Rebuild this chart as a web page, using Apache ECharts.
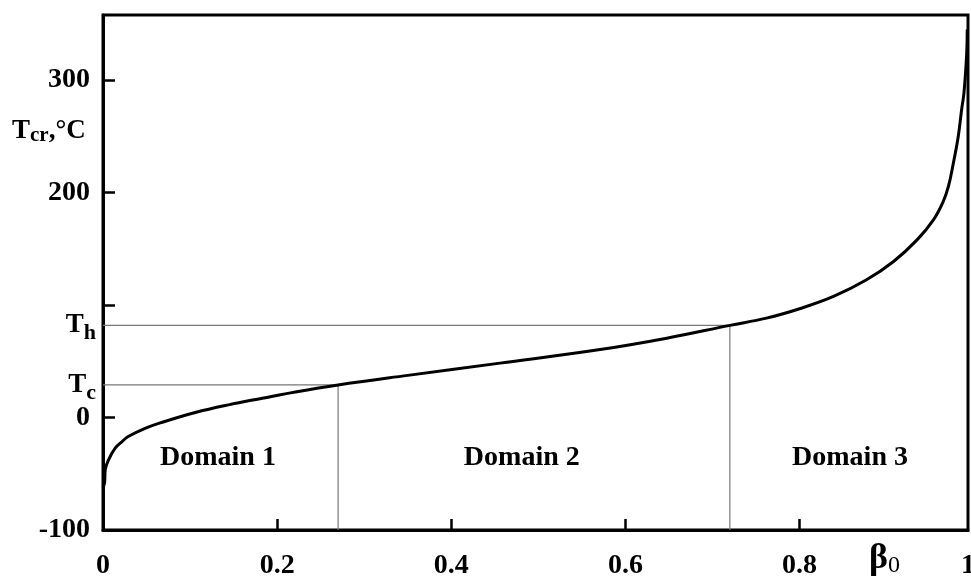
<!DOCTYPE html>
<html><head><meta charset="utf-8">
<script src="https://cdn.jsdelivr.net/npm/echarts@6/dist/echarts.min.js"></script>
<style>html,body{margin:0;padding:0;background:#fff}#chart{width:971px;height:578px}</style>
</head><body><div id="chart"></div>
<script>
// Critical temperature T_cr versus beta_0
const beta = [0, 0.0018, 0.0026, 0.0064, 0.014, 0.022, 0.029, 0.049, 0.068, 0.106, 0.144, 0.183, 0.221, 0.27, 0.35, 0.456, 0.571, 0.6475, 0.72, 0.762, 0.801, 0.839, 0.877, 0.908, 0.935, 0.954, 0.965, 0.971, 0.9766, 0.9823, 0.9862, 0.9889, 0.992, 0.9926];
const tcr  = [-62, -58, -46.5, -37.6, -27.2, -21.3, -16.9, -9.4, -4.2, 4.5, 11.3, 17.2, 22.8, 29, 37.5, 48.4, 60.5, 70.6, 82, 88.4, 97, 107.7, 122.5, 138.8, 158, 176, 192, 205.5, 226, 250, 274, 289, 324, 345];

// Domain boundaries
const T_C = 29, T_H = 82;
const BETA_C = 0.27, BETA_H = 0.72;

// Domain captions
const domainNames = ['Domain 1', 'Domain 2', 'Domain 3'];
const domainX = [0.132, 0.481, 0.858];
const domainY = -36;

// Axis ticks and labels
const X_MAX = 0.9935, Y_MIN = -100, Y_MAX = 358;
const xTicks = [0.2, 0.4, 0.6, 0.8];
const xLabels = [0, 0.2, 0.4, 0.6, 0.8, X_MAX];
const yTicks = [0, 100, 200, 300];
const yLabels = [-100, 0, T_C, T_H, 200, 300];

const SERIF = '"Liberation Serif", "DejaVu Serif", serif';

const chart = echarts.init(document.getElementById('chart'));
chart.setOption({
  animation: false,
  backgroundColor: '#fff',
  grid: {
    left: 103, right: 3, top: 15, bottom: 48, outerBoundsMode: 'none',
    show: true, borderColor: '#000', borderWidth: 3
  },
  xAxis: {
    type: 'value', min: 0, max: X_MAX,
    axisLine: { onZero: false, lineStyle: { color: '#000', width: 3 } },
    axisTick: { inside: true, length: 11, lineStyle: { color: '#000', width: 2.5 }, customValues: xTicks },
    axisLabel: {
      customValues: xLabels, margin: 22,
      color: '#000', fontFamily: SERIF, fontWeight: 'bold', fontSize: 28,
      formatter: v => v >= X_MAX - 1e-6 ? '1' : (v === 0 ? '0' : v.toFixed(1))
    },
    splitLine: { show: false }
  },
  yAxis: {
    type: 'value', min: Y_MIN, max: Y_MAX,
    axisLine: { onZero: false, lineStyle: { color: '#000', width: 3 } },
    axisTick: { inside: true, length: 12, lineStyle: { color: '#000', width: 2.5 }, customValues: yTicks },
    axisLabel: {
      customValues: yLabels, margin: 7,
      color: '#000', fontFamily: SERIF, fontWeight: 'bold', fontSize: 28,
      formatter: v => v === T_C ? '{t|T}{s|c}' : (v === T_H ? '{t|T}{s|h}' : '{n|' + v + '}'),
      rich: {
        n: { fontFamily: SERIF, fontWeight: 'bold', fontSize: 28, color: '#000', padding: [0, 6, 0, 0] },
        t: { fontFamily: SERIF, fontWeight: 'bold', fontSize: 27, color: '#000' },
        s: { fontFamily: SERIF, fontWeight: 'bold', fontSize: 22, color: '#000', padding: [16, 0, 0, 0] }
      }
    },
    splitLine: { show: false }
  },
  graphic: [
    {
      type: 'text', left: 12, top: 118,
      style: {
        text: '{t|T}{s|cr}{t|,°C}',
        rich: {
          t: { fontFamily: SERIF, fontWeight: 'bold', fontSize: 27, fill: '#000' },
          s: { fontFamily: SERIF, fontWeight: 'bold', fontSize: 21, fill: '#000', padding: [8, 0, 0, 0] }
        }
      }
    },
    {
      type: 'text', left: 869, top: 541,
      style: {
        text: '{b|β}{s|0}',
        rich: {
          b: { fontFamily: SERIF, fontWeight: 'bold', fontSize: 36, fill: '#000' },
          s: { fontFamily: SERIF, fontSize: 24, fill: '#000', padding: [14, 0, 0, 0] }
        }
      }
    }
  ],
  series: [
    {
      // T_c boundary: horizontal to the curve, then down to the beta axis
      type: 'line', silent: true, symbol: 'none',
      lineStyle: { color: '#777', width: 1.2 },
      data: [[0, T_C], [BETA_C, T_C], [BETA_C, Y_MIN]]
    },
    {
      // T_h boundary
      type: 'line', silent: true, symbol: 'none',
      lineStyle: { color: '#777', width: 1.2 },
      data: [[0, T_H], [BETA_H, T_H], [BETA_H, Y_MIN]]
    },
    {
      type: 'line', silent: true, symbol: 'none',
      smooth: 0.4,
      lineStyle: { color: '#000', width: 3 },
      data: beta.map((b, i) => [b, tcr[i]])
    },
    {
      type: 'scatter', silent: true, symbolSize: 0,
      itemStyle: { opacity: 1 },
      label: {
        show: true, position: 'inside', color: '#000', opacity: 1,
        textBorderWidth: 0,
        fontFamily: SERIF, fontWeight: 'bold', fontSize: 28,
        formatter: p => domainNames[p.dataIndex]
      },
      data: domainX.map(x => [x, domainY])
    }
  ]
});
</script>
</body></html>
